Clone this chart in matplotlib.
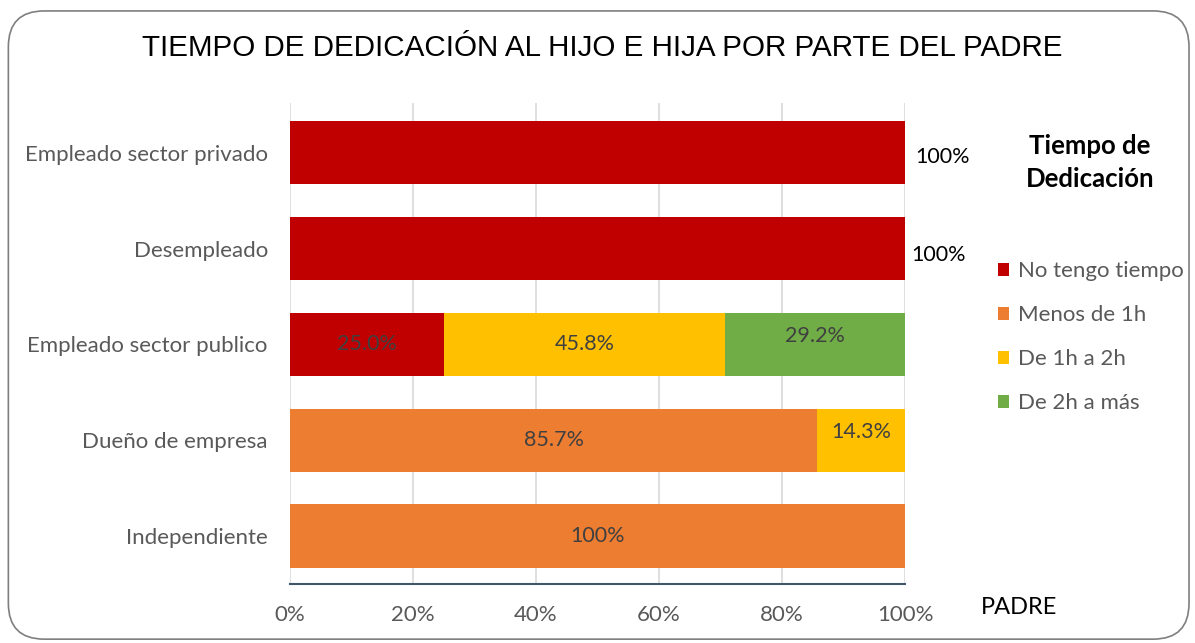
import matplotlib
matplotlib.use("Agg")
import matplotlib.pyplot as plt
from matplotlib.patches import FancyBboxPatch, Patch
import numpy as np

categories = ["Empleado sector privado", "Desempleado", "Empleado sector publico",
              "Dueño de empresa", "Independiente"]
series_names = ["No tengo tiempo", "Menos de 1h", "De 1h a 2h", "De 2h a más"]
no_tengo = [100, 100, 25.0, 0, 0]
menos_1h = [0, 0, 0, 85.7, 100]
de_1_2h = [0, 0, 45.8, 14.3, 0]
de_2h_mas = [0, 0, 29.2, 0, 0]
series = [no_tengo, menos_1h, de_1_2h, de_2h_mas]
colors = ["#C00000", "#ED7D31", "#FFC000", "#70AD47"]
xticks = [0, 20, 40, 60, 80, 100]
xticklabels = ["0%", "20%", "40%", "60%", "80%", "100%"]

font = "Lato"
fig = plt.figure(figsize=(11.95, 6.43), dpi=100)
fig.patch.set_facecolor("white")

border = FancyBboxPatch((0.007, 0.006), 0.988, 0.977, boxstyle="round,pad=0,rounding_size=0.03",
                        transform=fig.transFigure, facecolor="none", edgecolor="#7F7F7F",
                        linewidth=1.2, mutation_aspect=1195/643, zorder=-1)
fig.patches.append(border)

ax = fig.add_axes([0.2427, 0.0918, 0.5146, 0.748])
ax.set_facecolor("none")
y = np.arange(len(categories))
left = np.zeros(len(categories))
lblsize = 15.5
for name, vals, col in zip(series_names, series, colors):
    vals = np.array(vals, dtype=float)
    ax.barh(y, vals, left=left, height=0.66, color=col, label=name, zorder=3)
    for i, v in enumerate(vals):
        if v <= 0:
            continue
        if v >= 100 and name == "No tengo tiempo":
            ax.text(101.6 if i == 0 else 101.0, y[i] + (0.04 if i == 0 else 0.07), "100%",
                    ha="left", va="center", fontsize=lblsize, color="black", family=font)
        else:
            txt = "100%" if v >= 100 else f"{v:.1f}%"
            dy = 0.0
            if (name == "De 2h a más") or (name == "De 1h a 2h" and i == 3):
                dy = -0.09
            ax.text(left[i] + v / 2, y[i] + dy, txt, ha="center", va="center",
                    fontsize=lblsize, color="#404040", family=font, zorder=4)
    left += vals

ax.set_xlim(0, 100)
ax.set_ylim(len(categories) - 0.5, -0.52)
ax.set_yticks(y)
ax.set_yticklabels(categories, fontsize=16, color="#595959", family=font)
ax.set_xticks(xticks)
ax.set_xticklabels(xticklabels, fontsize=16, color="#595959", family=font)
ax.tick_params(axis="both", length=0)
ax.tick_params(axis="x", pad=15)
ax.tick_params(axis="y", pad=16)
ax.grid(axis="x", color="#D9D9D9", linewidth=1.2, zorder=0)
for s in ["top", "right", "left"]:
    ax.spines[s].set_visible(False)
ax.spines["bottom"].set_color("#44546A")
ax.spines["bottom"].set_linewidth(1.5)

fig.text(0.504, 0.926, "TIEMPO DE DEDICACIÓN AL HIJO E HIJA POR PARTE DEL PADRE",
         ha="center", va="center", fontsize=21.3, family="Liberation Sans", color="black")

fig.text(0.912, 0.748, "Tiempo de\nDedicación", ha="center", va="center",
         fontsize=18.5, fontweight="bold", family=font, color="black", linespacing=1.45)

handles = [Patch(facecolor=c, edgecolor="none") for c in colors]
leg = fig.legend(handles, series_names, loc="upper left", bbox_to_anchor=(0.8185, 0.625),
                 frameon=False, labelspacing=1.08, handlelength=0.5,
                 handleheight=0.5, handletextpad=0.4, prop={"family": font, "size": 16})
for t in leg.get_texts():
    t.set_color("#595959")

fig.text(0.853, 0.055, "PADRE", ha="center", va="center", fontsize=17,
         family=font, color="black")

fig.savefig("out.png", dpi=100)
